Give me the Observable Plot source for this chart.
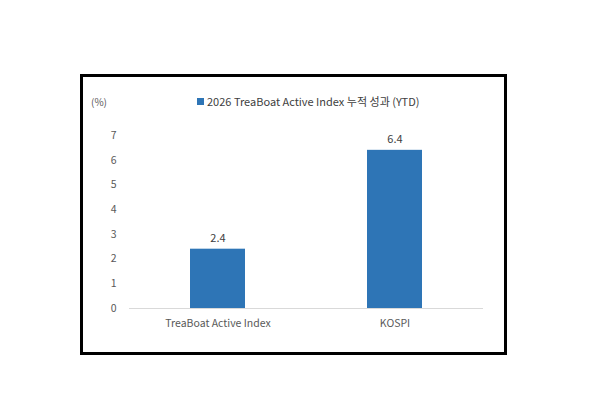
<!DOCTYPE html>
<html>
<head>
<meta charset="utf-8">
<script src="https://cdn.jsdelivr.net/npm/d3@7"></script>
<script src="https://cdn.jsdelivr.net/npm/@observablehq/plot@0.6"></script>
<style>
  html, body { margin: 0; padding: 0; background: #fff; }
  body { width: 590px; height: 410px; position: relative; overflow: hidden;
         font-family: "Noto Sans CJK KR", "Noto Sans", sans-serif; }
  #frame { position: absolute; left: 80px; top: 74px; width: 427px; height: 281px;
           box-sizing: border-box; border: 3px solid #000; pointer-events: none; }
  #unit { position: absolute; left: 91px; top: 94px; font-size: 10px; color: #595959; }
  #legend { position: absolute; left: 197px; top: 93px; font-size: 11px; color: #404040;
            white-space: nowrap; display: flex; align-items: center; }
  #legend .sw { display: inline-block; width: 7px; height: 7px; background: #2e75b6; margin-right: 3px; }
  #chart { position: absolute; left: 0; top: 0; }
</style>
</head>
<body>
<div id="chart"></div>
<div id="frame"></div>
<div id="unit">(%)</div>
<div id="legend"><span class="sw"></span><span id="legendText"></span></div>
<script>
const categories = ["TreaBoat Active Index", "KOSPI"];
const values = [2.4, 6.4];
const yTicks = [0, 1, 2, 3, 4, 5, 6, 7];
const legendLabel = "2026 TreaBoat Active Index 누적 성과 (YTD)";
const unitLabel = "(%)";

document.getElementById("legendText").textContent = legendLabel;
document.getElementById("unit").textContent = unitLabel;

const data = categories.map((c, i) => ({category: c, value: values[i]}));

const plot = Plot.plot({
  width: 590,
  height: 410,
  marginLeft: 129,
  marginRight: 107,
  marginTop: 135,
  marginBottom: 102,
  style: {fontFamily: "'Noto Sans CJK KR', 'Noto Sans', sans-serif", fontSize: "10.5px", color: "#595959", background: "transparent"},
  x: {domain: categories, paddingInner: 0.69, paddingOuter: 0.345, label: null},
  y: {domain: [0, 7], ticks: yTicks, label: null},
  marks: [
    Plot.axisY({ticks: yTicks, tickSize: 0, tickPadding: 13, tickFormat: d => String(d), fill: "#595959"}),
    Plot.axisX({tickSize: 0, tickPadding: 11, fill: "#595959"}),
    Plot.barY(data, {x: "category", y: "value", fill: "#2e75b6"}),
    Plot.ruleY([0], {stroke: "#d9d9d9", strokeWidth: 1}),
    Plot.text(data, {x: "category", y: "value", text: d => d.value.toFixed(1), dy: -11, fill: "#404040", fontSize: 11})
  ]
});
document.getElementById("chart").appendChild(plot);
</script>
</body>
</html>
